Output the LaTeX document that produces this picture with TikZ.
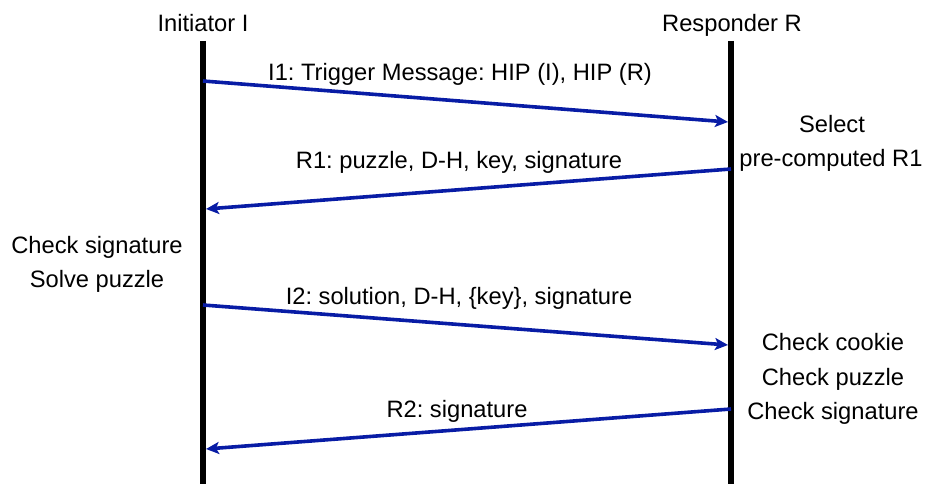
\documentclass[tikz,border=0pt]{standalone}
\usepackage{fontspec}
\setmainfont{Liberation Sans}
\usetikzlibrary{arrows.meta}
\definecolor{msgblue}{RGB}{8,28,165}
\frenchspacing
\begin{document}
\begin{tikzpicture}[x=1pt,y=-1pt,
  lbl/.style={anchor=base,inner sep=0pt,font=\fontsize{23.7}{28}\selectfont},
  lifeline/.style={draw=black,line width=6pt},
  msg/.style={draw=msgblue,line width=3.6pt,-{Stealth[length=13pt,width=12pt,inset=3pt]}}]
\useasboundingbox (0,0) rectangle (926,484);
% headers
\node[lbl] (hI) at (203,32) {Initiator I};
\node[lbl] (hR) at (732,32) {Responder R};
% lifelines
\coordinate (Itop) at (203,41);
\coordinate (Ibot) at (203,484);
\coordinate (Rtop) at (731,41);
\coordinate (Rbot) at (731,484);
\draw[lifeline] (Itop) -- (Ibot);
\draw[lifeline] (Rtop) -- (Rbot);
% message endpoints
\coordinate (i1s) at (203,81);
\coordinate (i1e) at (728,122);
\coordinate (r1s) at (731,169);
\coordinate (r1e) at (206,209);
\coordinate (i2s) at (203,305);
\coordinate (i2e) at (728,345);
\coordinate (r2s) at (731,409);
\coordinate (r2e) at (206,449);
\draw[msg] (i1s) -- (i1e);
\draw[msg] (r1s) -- (r1e);
\draw[msg] (i2s) -- (i2e);
\draw[msg] (r2s) -- (r2e);
% message labels
\node[lbl] (li1) at (460,81) {I1: Trigger Message: HIP (I), HIP (R)};
\node[lbl] (lr1) at (459,168) {R1: puzzle, D-H, key, signature};
\node[lbl] (li2) at (459,304) {I2: solution, D-H, \{key\}, signature};
\node[lbl] (lr2) at (457,417) {R2: signature};
% processing notes
\node[lbl] (n1) at (832,133) {Select};
\node[lbl] (n2) at (831,167) {pre-computed R1};
\node[lbl] (n3) at (97,253) {Check signature};
\node[lbl] (n4) at (97,287) {Solve puzzle};
\node[lbl] (n5) at (833,350) {Check cookie};
\node[lbl] (n6) at (833,385) {Check puzzle};
\node[lbl] (n7) at (833,419) {Check signature};
\end{tikzpicture}
\end{document}
